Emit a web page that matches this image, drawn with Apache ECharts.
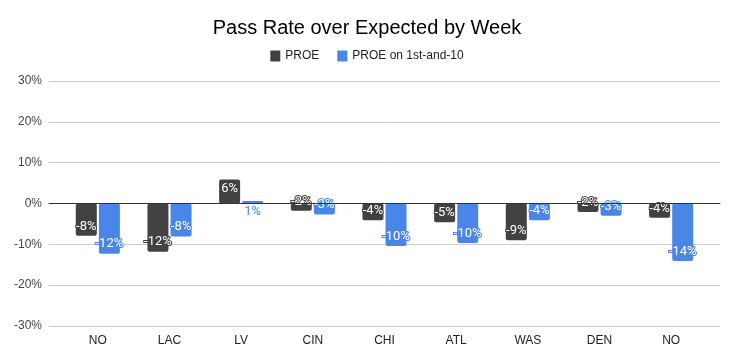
<!DOCTYPE html>
<html>
<head>
<meta charset="utf-8">
<script src="https://cdn.jsdelivr.net/npm/echarts@6/dist/echarts.min.js"></script>
<style>html,body{margin:0;padding:0;background:#fff}#c{width:734px;height:363px}</style>
</head>
<body>
<div id="c"></div>
<script>
var categories = ['NO', 'LAC', 'LV', 'CIN', 'CHI', 'ATL', 'WAS', 'DEN', 'NO'];
var proe = [-0.079, -0.118, 0.059, -0.018, -0.041, -0.046, -0.090, -0.021, -0.035];
var proeFirstTen = [-0.123, -0.081, 0.006, -0.027, -0.104, -0.097, -0.041, -0.030, -0.141];
var yTicks = [-0.3, -0.2, -0.1, 0, 0.1, 0.2, 0.3];

var DARK = '#424242', BLUE = '#4a86e8';
var fmtPct = function (v) { return Math.round(v * 100) + '%'; };

function makeData(values, color) {
  return values.map(function (v) {
    var big = Math.abs(v) >= 0.015;
    var lbl;
    if (!big) {
      lbl = { position: v >= 0 ? 'bottom' : 'top', distance: 2, color: color, textBorderColor: '#fff' };
    } else {
      lbl = { position: v >= 0 ? 'insideTop' : 'insideBottom', distance: 3 };
    }
    return { value: v, label: lbl };
  });
}

function barSeries(name, values, color) {
  return {
    name: name, type: 'bar', xAxisIndex: 1, yAxisIndex: 1,
    barWidth: 21, barGap: '10%',
    itemStyle: { color: color, borderRadius: 2 },
    label: {
      show: true, formatter: function (p) { return fmtPct(p.value); },
      color: '#fff', textBorderColor: color, textBorderWidth: 2,
      fontFamily: 'Roboto', fontSize: 13
    },
    data: makeData(values, color)
  };
}

var chart = echarts.init(document.getElementById('c'), null, { renderer: 'canvas' });
chart.setOption({
  animation: false,
  backgroundColor: '#fff',
  title: {
    text: 'Pass Rate over Expected by Week', left: 'center', top: 13,
    textStyle: { fontFamily: 'Liberation Sans, Arial', fontSize: 20, fontWeight: 'normal', color: '#000' }
  },
  legend: {
    top: 45, left: 'center', icon: 'rect', itemWidth: 10, itemHeight: 11, itemGap: 18,
    textStyle: { fontFamily: 'Liberation Sans, Arial', fontSize: 12, color: '#222' },
    data: ['PROE', 'PROE on 1st-and-10']
  },
  grid: [
    { left: 49, right: 14, top: 81, bottom: 37 },
    { left: 62, right: 27, top: 81, bottom: 37 }
  ],
  xAxis: [
    { gridIndex: 0, type: 'category', data: [''], axisTick: { show: false }, axisLabel: { show: false },
      axisLine: { show: true, onZero: true, lineStyle: { color: '#333', width: 1 } }, z: 5 },
    { gridIndex: 1, type: 'category', data: categories, axisTick: { show: false },
      axisLine: { show: false },
      axisLabel: { margin: 9, fontFamily: 'Liberation Sans, Arial', fontSize: 12, color: '#222' } }
  ],
  yAxis: [
    { gridIndex: 0, type: 'value', min: yTicks[0], max: yTicks[yTicks.length - 1], interval: 0.1,
      axisLine: { show: false }, axisTick: { show: false },
      axisLabel: { margin: 7, fontFamily: 'Liberation Sans, Arial', fontSize: 12, color: '#444',
        formatter: function (v) { return Math.round(v * 100) + '%'; } },
      splitLine: { lineStyle: { color: '#cccccc' } } },
    { gridIndex: 1, type: 'value', min: yTicks[0], max: yTicks[yTicks.length - 1], interval: 0.1,
      show: false, splitLine: { show: false } }
  ],
  series: [
    barSeries('PROE', proe, DARK),
    barSeries('PROE on 1st-and-10', proeFirstTen, BLUE)
  ]
});
</script>
</body>
</html>
